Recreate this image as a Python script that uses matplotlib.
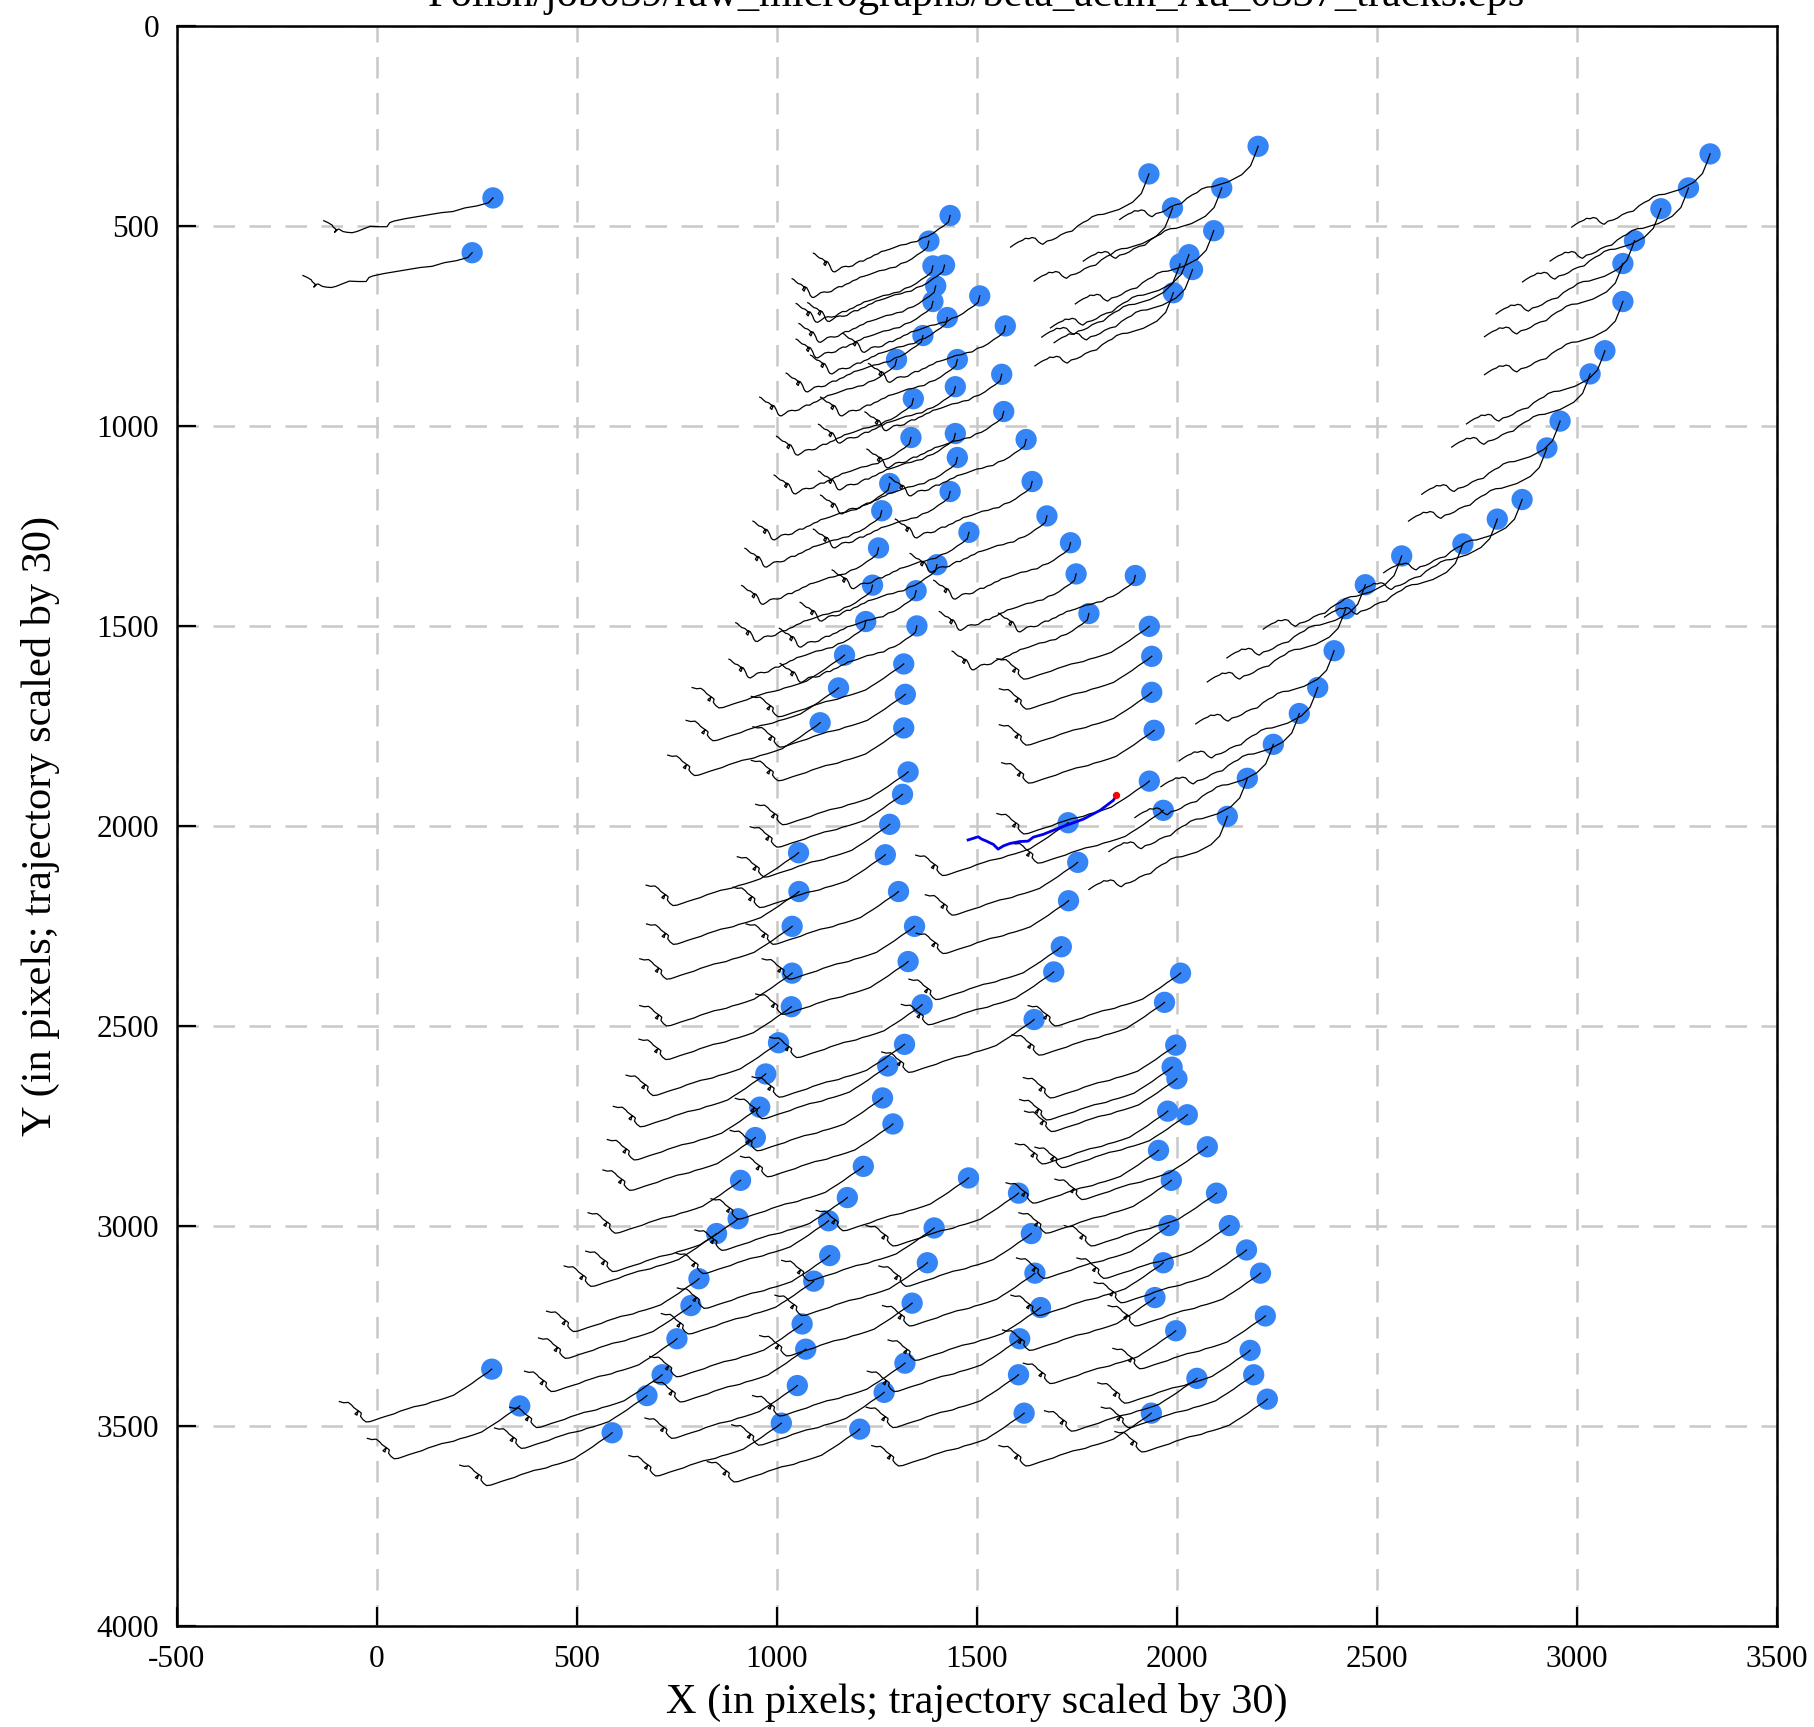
import matplotlib
matplotlib.use('Agg')
import matplotlib.pyplot as plt
import numpy as np

plt.rcParams['font.family'] = ['Liberation Serif', 'DejaVu Serif']

TITLE = "Polish/job039/raw_micrographs/beta_actin_Au_0337_tracks.eps"
X_LABEL = "X (in pixels; trajectory scaled by 30)"
Y_LABEL = "Y (in pixels; trajectory scaled by 30)"
X_TICKS = [-500, 0, 500, 1000, 1500, 2000, 2500, 3000, 3500]
Y_TICKS = [0, 500, 1000, 1500, 2000, 2500, 3000, 3500, 4000]

# ---- particle positions (blue dots) ----
TOPLEFT_X = [290, 238]
TOPLEFT_Y = [430, 567]

UPPER_X = [2203, 1930, 2112, 1989, 2092, 2030, 2008, 2039, 1991]
UPPER_Y = [301, 370, 405, 455, 512, 572, 595, 609, 667]

DIAG_X = [3333, 3279, 3210, 3144, 3115, 3115, 3070, 3033, 2958, 2925, 2863,
          2801, 2715, 2562, 2471, 2422, 2393, 2352, 2306, 2241, 2176, 2126]
DIAG_Y = [320, 405, 457, 537, 594, 689, 812, 870, 988, 1055, 1184,
          1233, 1295, 1325, 1397, 1457, 1562, 1654, 1719, 1796, 1881, 1976]

LEFTUP_X = [1433, 1380, 1390, 1419, 1397, 1390, 1507, 1426, 1571, 1365, 1299,
            1451, 1562, 1446, 1341, 1567, 1335, 1446, 1623, 1451, 1282, 1638,
            1433, 1262, 1675, 1480, 1254, 1734, 1400, 1748, 1239, 1348, 1896,
            1780, 1222, 1350]
LEFTUP_Y = [474, 538, 600, 598, 650, 689, 675, 729, 750, 774, 834,
            834, 871, 902, 932, 964, 1029, 1019, 1034, 1079, 1144, 1139,
            1164, 1212, 1225, 1266, 1305, 1292, 1347, 1370, 1398, 1412, 1374,
            1469, 1489, 1500]

LOWER_X = [1931, 1169, 1317, 1937, 1154, 1321, 1937, 1108, 1317, 1943, 1328,
           1931, 1314, 1966, 1282, 1728, 1054, 1271, 1752, 1055, 1304, 1729,
           1038, 1344, 1711, 1328, 1038, 1692, 1363, 1036, 1643, 1004, 1319,
           972, 1277, 1264, 957, 1290, 946,
           2009, 1969, 1997, 1988, 2000, 1977, 2026, 1954, 2076, 1986, 2099,
           1980, 2131, 2174, 1966, 2209, 1945, 2221, 1997, 2183, 2192, 2050,
           2226, 1936,
           1216, 909, 1479, 1176, 1604, 903, 1129, 1393, 1636, 849, 1132, 1376,
           805, 1092, 1645, 785, 1338, 1659, 1063, 750, 1607, 1072, 1320, 287,
           713, 1604, 1051, 357, 675, 1268, 1618, 1011, 588, 1207]
LOWER_Y = [1501, 1573, 1595, 1576, 1655, 1671, 1666, 1742, 1755, 1761, 1865,
           1888, 1921, 1961, 1996, 1992, 2067, 2072, 2091, 2164, 2164, 2187,
           2251, 2251, 2302, 2339, 2368, 2365, 2447, 2452, 2484, 2542, 2546,
           2620, 2600, 2680, 2703, 2745, 2779,
           2368, 2441, 2548, 2603, 2632, 2713, 2722, 2811, 2802, 2886, 2918,
           2999, 2999, 3060, 3092, 3118, 3179, 3225, 3262, 3311, 3372, 3381,
           3433, 3468,
           2851, 2886, 2880, 2929, 2918, 2982, 2987, 3005, 3019, 3019, 3074, 3092,
           3132, 3138, 3118, 3199, 3193, 3204, 3245, 3282, 3282, 3308, 3343, 3358,
           3372, 3372, 3399, 3450, 3424, 3416, 3468, 3493, 3517, 3508]

# ---- trajectory shapes (offsets from the dot, already scaled by 30) ----
A_DX = [0, -11, -40, -70, -100, -130, -160, -190, -220, -248, -258, -265, -285,
        -307, -325, -340, -352, -365, -375, -385, -392, -396, -390, -400, -402,
        -412, -423]
A_DY = [0, 12, 20, 25, 34, 37, 42, 47, 52, 58, 62, 72, 72, 71, 78, 84, 87, 86,
        84, 78, 80, 86, 81, 72, 68, 62, 57]

L1_DX = [0, -4, -16, -29, -42, -56, -70, -83, -97, -110, -124, -137, -150, -163,
         -172, -181, -190, -199, -208, -217, -226, -235, -244, -253, -262, -271,
         -280, -288, -293, -297, -300, -302, -306, -311, -316, -312, -309, -315,
         -320, -327, -333, -338, -342]
L1_DY = [0, 16, 26, 34, 44, 52, 56, 65, 67, 72, 74, 79, 84, 88, 90, 96, 99, 105,
         108, 114, 114, 119, 126, 128, 127, 129, 136, 141, 140, 135, 127, 123,
         116, 114, 121, 125, 118, 112, 108, 106, 101, 96, 94]

L2_DX = [0, -11, -22, -34, -50, -67, -80, -95, -115, -134, -150, -165, -179,
         -195, -210, -229, -245, -262, -278, -292, -304, -314, -322, -328, -326,
         -332, -338, -342, -337, -334, -345, -350, -355, -359, -370, -381]
L2_DY = [0, 9, 16, 24, 36, 47, 55, 65, 72, 78, 82, 88, 91, 94, 99, 105, 112, 117,
         122, 127, 131, 132, 126, 118, 110, 105, 108, 112, 115, 104, 96, 90, 86,
         83, 84, 81]

R_DX = [0, -8, -19, -30, -41, -58, -75, -95, -114, -128, -142, -153, -164, -178,
        -192, -206, -220, -231, -242, -255, -265, -270, -276, -284, -292, -300,
        -309, -316, -326, -336, -346]
R_DY = [0, 22, 49, 60, 71, 80, 89, 95, 101, 102, 107, 116, 121, 130, 143, 146,
        152, 160, 165, 168, 176, 174, 170, 161, 159, 162, 161, 166, 170, 176, 183]

# highlighted track (blue) with its start point (red)
BLUE_X = [1848, 1841, 1808, 1766, 1708, 1666, 1641, 1628, 1607, 1582, 1566,
          1553, 1541, 1532, 1524, 1512, 1503, 1491, 1478]
BLUE_Y = [1925, 1936, 1961, 1983, 2004, 2021, 2028, 2038, 2039, 2044, 2050,
          2058, 2046, 2042, 2038, 2033, 2027, 2031, 2035]
RED_X = [1848]
RED_Y = [1922]

DOT_COLOR = '#3585f7'

fig = plt.figure(figsize=(18.15, 17.27), dpi=100)
ax = fig.add_axes([0.0975, 0.0585, 0.8815, 0.9265])
ax.set_xlim(-500, 3500)
ax.set_ylim(4000, 0)

groups = [
    (TOPLEFT_X, TOPLEFT_Y, A_DX, A_DY),
    (UPPER_X, UPPER_Y, R_DX, R_DY),
    (DIAG_X, DIAG_Y, R_DX, R_DY),
    (LEFTUP_X, LEFTUP_Y, L1_DX, L1_DY),
    (LOWER_X, LOWER_Y, L2_DX, L2_DY),
]

for gx, gy, tdx, tdy in groups:
    ax.scatter(gx, gy, s=235, color=DOT_COLOR, edgecolors='none', zorder=2)
    tdx = np.asarray(tdx, float)
    tdy = np.asarray(tdy, float)
    for x0, y0 in zip(gx, gy):
        ax.plot(x0 + tdx, y0 + tdy, color='black', lw=0.9, zorder=3,
                solid_joinstyle='round')

ax.plot(BLUE_X, BLUE_Y, color='#0000ee', lw=2.0, zorder=4)
ax.scatter(RED_X, RED_Y, s=18, color='red', zorder=5)

ax.set_xticks(X_TICKS)
ax.set_yticks(Y_TICKS)
ax.set_xticklabels([str(v) for v in X_TICKS])
ax.set_yticklabels([str(v) for v in Y_TICKS])
ax.tick_params(axis='both', direction='in', length=14, width=1.6,
               labelsize=22.5, top=False, right=False)
ax.tick_params(axis='x', pad=14)
ax.tick_params(axis='y', pad=13)

ax.set_axisbelow(True)
ax.grid(True, color='#c8c8c8', lw=1.8, linestyle=(0, (8.6, 5.8)))
for sp in ax.spines.values():
    sp.set_linewidth(1.8)
    sp.set_color('black')

ax.set_xlabel(X_LABEL, fontsize=30.5, labelpad=6)
ax.set_ylabel(Y_LABEL, fontsize=30.5, labelpad=26)

fig.text(0.538, 1 - 6 / 1727, TITLE, ha='center', va='baseline', fontsize=30.5)

fig.savefig('out.png', dpi=100)
